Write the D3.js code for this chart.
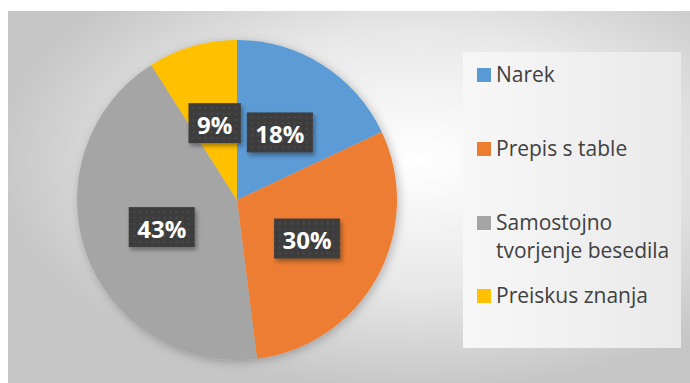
<!DOCTYPE html>
<html>
<head>
<meta charset="utf-8">
<script src="https://cdn.jsdelivr.net/npm/d3@7"></script>
<style>
  html, body { margin: 0; padding: 0; background: #ffffff; }
  svg { display: block; }
</style>
</head>
<body>
<svg id="chart" width="690" height="383"></svg>
<script>
// Share of lesson time by activity
const categories = ["Narek", "Prepis s table", "Samostojno tvorjenje besedila", "Preiskus znanja"];
const legendLines = [["Narek"], ["Prepis s table"], ["Samostojno", "tvorjenje besedila"], ["Preiskus znanja"]];
const values = [18, 30, 43, 9];
const valueLabels = ["18%", "30%", "43%", "9%"];
const colors = ["#5B9BD5", "#ED7D31", "#A5A5A5", "#FFC000"];

const svg = d3.select("#chart");
const defs = svg.append("defs");

// Chart area background: soft radial gradient
const bg = defs.append("radialGradient").attr("id", "bgGrad")
  .attr("cx", "0.6").attr("cy", "0.4").attr("r", "0.62");
bg.append("stop").attr("offset", "0").attr("stop-color", "#ffffff");
bg.append("stop").attr("offset", "0.55").attr("stop-color", "#e8e8e8");
bg.append("stop").attr("offset", "1").attr("stop-color", "#c6c6c6");

// Legend panel fill
const lg = defs.append("linearGradient").attr("id", "legGrad")
  .attr("x1", "0").attr("y1", "0").attr("x2", "1").attr("y2", "0");
lg.append("stop").attr("offset", "0").attr("stop-color", "#f7f7f7");
lg.append("stop").attr("offset", "1").attr("stop-color", "#e9e9e9");

// Shadows
const pieShadow = defs.append("filter").attr("id", "pieShadow")
  .attr("x", "-20%").attr("y", "-20%").attr("width", "140%").attr("height", "140%");
pieShadow.append("feDropShadow").attr("dx", 2).attr("dy", 2).attr("stdDeviation", 5)
  .attr("flood-color", "#000").attr("flood-opacity", 0.25);

const boxShadow = defs.append("filter").attr("id", "boxShadow")
  .attr("x", "-30%").attr("y", "-30%").attr("width", "160%").attr("height", "160%");
boxShadow.append("feDropShadow").attr("dx", 2).attr("dy", 3).attr("stdDeviation", 2)
  .attr("flood-color", "#000").attr("flood-opacity", 0.35);

// Dotted dark texture for the data label boxes
const pat = defs.append("pattern").attr("id", "dots")
  .attr("width", 6).attr("height", 6).attr("patternUnits", "userSpaceOnUse");
pat.append("rect").attr("width", 6).attr("height", 6).attr("fill", "#3d3d3d");
pat.append("rect").attr("x", 2).attr("y", 2).attr("width", 1.5).attr("height", 1.5).attr("fill", "#555555");

// Background of the chart area
svg.append("rect")
  .attr("x", 8).attr("y", 11).attr("width", 682).attr("height", 372)
  .attr("fill", "url(#bgGrad)");

// Pie
const cx = 237, cy = 200, radius = 160;
const pie = d3.pie().sort(null).value(d => d)(values);
const arc = d3.arc().innerRadius(0).outerRadius(radius);
const labelArc = d3.arc().innerRadius(0).outerRadius(radius);

const g = svg.append("g").attr("transform", `translate(${cx},${cy})`);
g.append("g").attr("filter", "url(#pieShadow)")
  .selectAll("path").data(pie).join("path")
  .attr("d", arc)
  .attr("fill", (d, i) => colors[i]);

// Data labels
const labelFont = "'Open Sans', sans-serif";
const lab = g.selectAll("g.lab").data(pie).join("g").attr("class", "lab")
  .attr("transform", d => { const c = labelArc.centroid(d); return `translate(${c[0]},${c[1]})`; });

lab.each(function(d, i) {
  const sel = d3.select(this);
  const t = sel.append("text")
    .attr("text-anchor", "middle")
    .attr("dominant-baseline", "central")
    .attr("y", 1)
    .attr("fill", "#ffffff")
    .attr("font-family", labelFont)
    .attr("font-weight", "bold")
    .attr("font-size", 24)
    .text(valueLabels[i]);
  const w = t.node().getComputedTextLength();
  const bw = w + 17, bh = 40;
  sel.insert("rect", "text")
    .attr("x", -bw / 2).attr("y", -bh / 2)
    .attr("width", bw).attr("height", bh)
    .attr("fill", "url(#dots)")
    .attr("filter", "url(#boxShadow)");
});

// Legend panel
svg.append("rect")
  .attr("x", 463).attr("y", 52).attr("width", 218).attr("height", 296)
  .attr("fill", "url(#legGrad)");

const legendY = [82, 156, 230, 303];
const leg = svg.append("g").selectAll("g").data(categories).join("g")
  .attr("transform", (d, i) => `translate(477,${legendY[i]})`);
leg.append("rect")
  .attr("x", 0).attr("y", -14).attr("width", 14).attr("height", 14)
  .attr("fill", (d, i) => colors[i]);
leg.append("text")
  .attr("x", 19).attr("y", 0)
  .attr("fill", "#404040")
  .attr("font-family", labelFont)
  .attr("font-size", 21)
  .each(function(d, i) {
    const t = d3.select(this);
    legendLines[i].forEach((line, k) => {
      t.append("tspan").attr("x", 19).attr("dy", k === 0 ? 0 : 28).text(line);
    });
  });
</script>
</body>
</html>
